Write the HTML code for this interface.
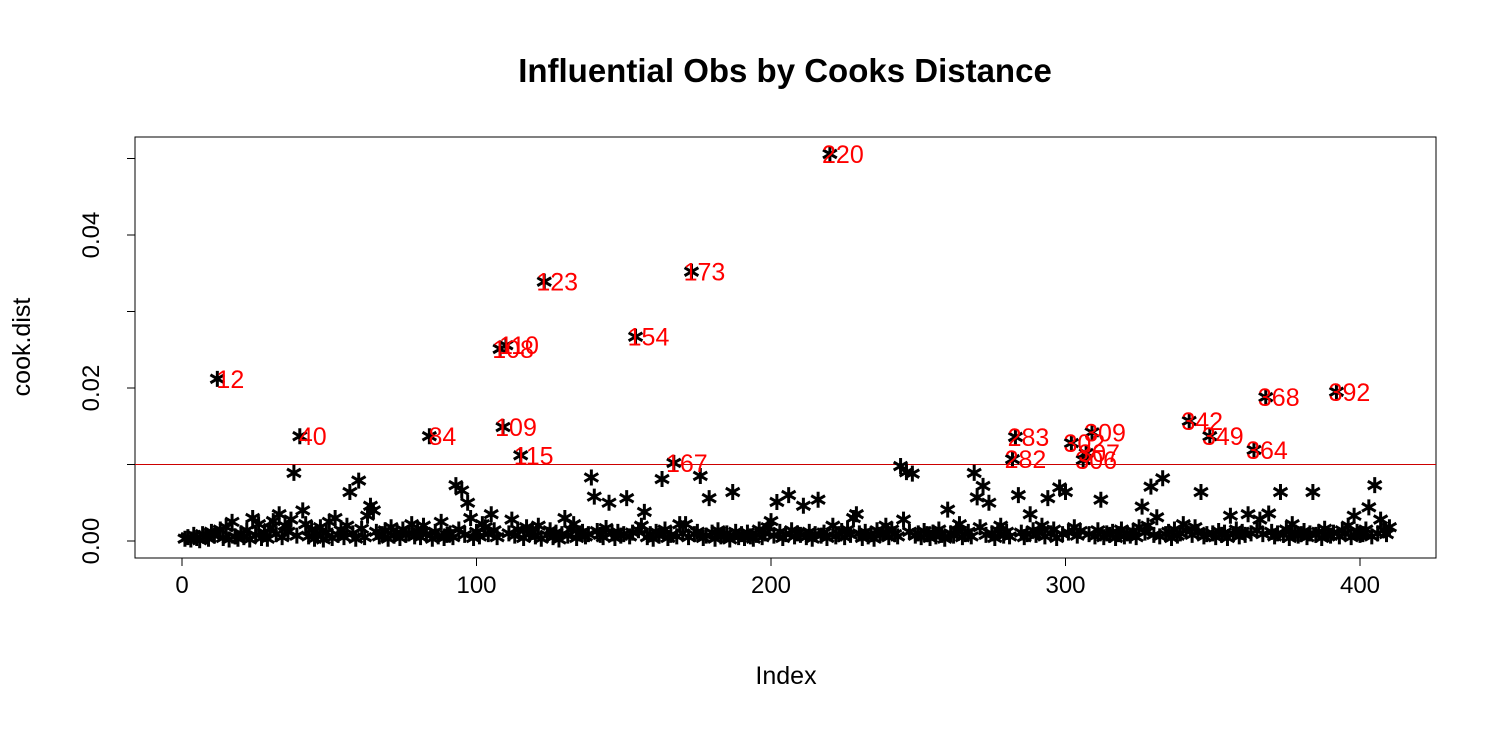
<!DOCTYPE html>
<html><head><meta charset="utf-8"><style>
body{margin:0;background:#fff}
svg text{font-family:"Liberation Sans",Arial,sans-serif}
</style></head><body>
<svg id="chart" width="1506" height="728" xmlns="http://www.w3.org/2000/svg">
<text x="785" y="82" text-anchor="middle" font-size="33" font-weight="bold">Influential Obs by Cooks Distance</text>
<rect x="135" y="137" width="1301" height="421" fill="none" stroke="#000" stroke-width="1"/>
<g id="xaxis"></g>
<g id="yaxis"></g>
<text x="786" y="684" text-anchor="middle" font-size="25">Index</text>
<text transform="translate(30,347) rotate(-90)" text-anchor="middle" font-size="25">cook.dist</text>
<g id="cutoff"></g>
<g id="points"></g>
<g id="labels"></g>
</svg>
<script>
// Cook's distance values in units of 1e-4, index 1..410
const cookE4 = [
3,5,2,8,4,1,9,6,3,12, 7,212,15,4,18,2,25,6,3,10, 5,14,2,30,8,22,4,11,3,17, 26,9,35,5,20,12,28,89,7,137,
40,22,6,15,3,9,18,2,11,25, 4,30,8,14,5,20,64,10,3,79, 16,5,33,46,40,12,6,9,14,3, 18,7,11,4,15,8,10,22,6,13,
5,20,9,137,3,12,6,25,4,8, 10,5,73,15,66,8,50,30,4,12, 6,22,18,9,35,14,5,251,149,256, 10,28,7,15,112,4,18,9,12,6,
20,3,339,8,14,5,11,2,9,30, 7,15,22,4,10,12,6,9,83,58, 13,8,5,17,50,10,4,12,7,9, 56,6,11,267,14,20,38,5,9,3,
12,7,81,15,4,8,102,6,22,10, 22,5,352,9,12,85,4,7,56,11, 3,14,6,8,10,2,64,12,5,9, 4,11,6,3,8,15,5,10,18,26,
7,51,12,4,9,60,14,6,10,8, 46,5,12,3,9,54,7,11,4,506, 20,6,9,13,5,15,8,30,35,10, 4,12,6,9,3,14,8,11,20,5,
15,9,6,98,28,90,12,88,7,10, 5,13,9,4,11,6,15,8,3,41, 10,7,14,22,5,9,12,6,89,57, 18,72,8,50,10,4,14,20,7,12,
6,107,136,60,11,5,9,35,14,8, 12,20,6,56,10,15,4,70,9,64, 11,128,18,7,13,106,115,9,142,6, 14,54,5,10,8,12,4,9,15,6,
10,7,13,5,18,45,11,20,71,8, 31,6,82,9,12,4,15,7,10,22, 14,157,8,18,12,64,6,9,137,10, 5,13,8,11,4,33,9,15,6,12,
8,35,10,119,14,28,9,188,36,12, 6,10,64,8,15,4,22,11,7,9, 13,5,10,64,8,12,4,16,9,7, 11,195,6,14,10,20,5,33,12,8,
9,15,44,6,73,10,28,14,9,18];
const cutoffValue = [0.01];
const xTicks = [0,100,200,300,400];
const yTicks = [0,0.01,0.02,0.03,0.04,0.05];
const yTickLabels = ["0.00","","0.02","","0.04",""];

const NS="http://www.w3.org/2000/svg";
const xs = v => 182 + v*(1360-182)/400;
const ys = v => 541 - v*7650;
function mk(tag, attrs, parent){const e=document.createElementNS(NS,tag);for(const k in attrs)e.setAttribute(k,attrs[k]);parent.appendChild(e);return e;}

const xa=document.getElementById('xaxis');
mk('line',{x1:xs(0),x2:xs(400),y1:558,y2:558,stroke:'#000'},xa);
xTicks.forEach(t=>{
  const l=mk('line',{x1:xs(t),x2:xs(t),y1:558,y2:566,stroke:'#000'},xa);
  
  
  const tx=mk('text',{x:xs(t),y:593,'text-anchor':'middle','font-size':24},xa);
  tx.textContent=t;
  
  
});
const ya=document.getElementById('yaxis');
mk('line',{x1:135,x2:135,y1:ys(0),y2:ys(0.05),stroke:'#000'},ya);
yTicks.forEach((t,i)=>{
  const l=mk('line',{x1:127,x2:135,y1:ys(t),y2:ys(t),stroke:'#000'},ya);
  
  
  if(yTickLabels[i]){
    const tx=mk('text',{transform:`translate(99,${ys(t)}) rotate(-90)`,'text-anchor':'middle','font-size':24},ya);
    tx.textContent=yTickLabels[i];
    
    
  }
});
const cl=mk('line',{x1:135,x2:1436,y1:ys(cutoffValue[0]),y2:ys(cutoffValue[0]),stroke:'#c00',"stroke-width":1},document.getElementById('cutoff'));



const pg=document.getElementById('points'), lg=document.getElementById('labels');
cookE4.forEach((v,i)=>{
  const val=v/1e4, idx=i+1;
  const cx=xs(idx), cy=ys(val), r=8;
  const d=`M${cx} ${cy-r}L${cx} ${cy+r}M${cx-6.9} ${cy-4}L${cx+6.9} ${cy+4}M${cx-6.9} ${cy+4}L${cx+6.9} ${cy-4}`;
  const p=mk('path',{d:d,stroke:'#000','stroke-width':3},pg);
  
  
  if(val>cutoffValue[0]){
    const t=mk('text',{x:cx+13,y:cy+9,'text-anchor':'middle','font-size':25,fill:'#f00'},lg);
    t.textContent=idx;
    
    
  }
});
</script>
</body></html>
